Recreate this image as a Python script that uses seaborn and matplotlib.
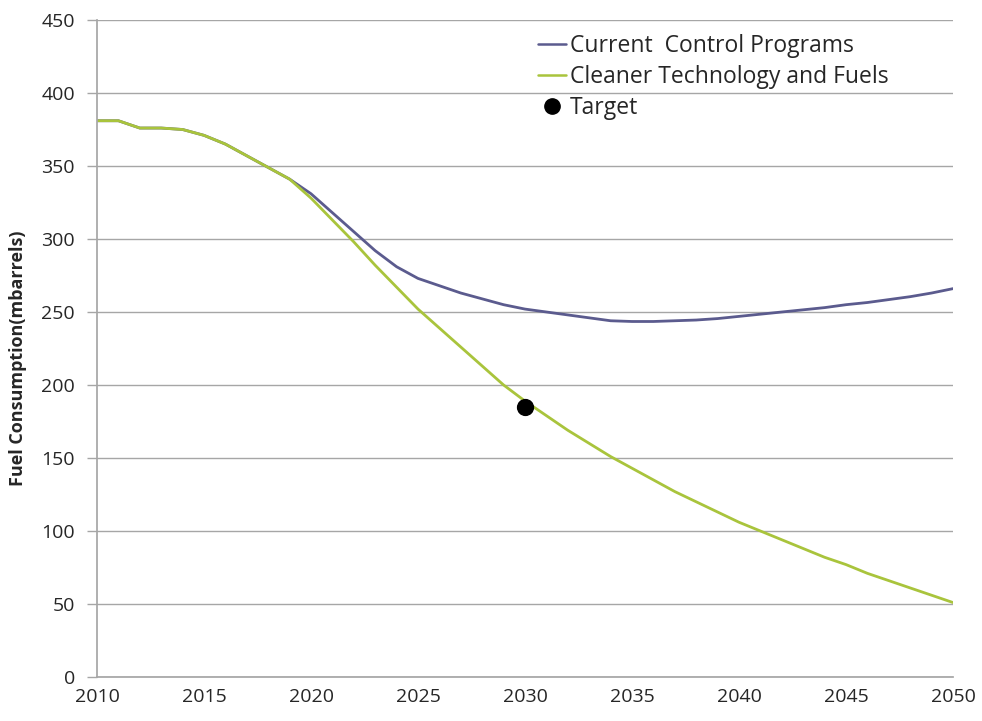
import matplotlib
matplotlib.use("Agg")
import matplotlib.pyplot as plt
import seaborn as sns
import pandas as pd
from matplotlib.lines import Line2D

years = list(range(2010, 2051))
current = [381, 381, 376, 376, 375, 371, 365, 357, 349, 341, 331, 318, 305, 292, 281,
           273, 268, 263, 259, 255, 252, 250, 248, 246, 244, 243.5, 243.5, 244, 244.5,
           245.5, 247, 248.5, 250, 251.5, 253, 255, 256.5, 258.5, 260.5, 263, 266]
cleaner = [381, 381, 376, 376, 375, 371, 365, 357, 349, 341, 328, 313, 298, 282, 267,
           252, 239, 226, 213, 200, 189, 179, 169, 160, 151, 143, 135, 127, 120, 113,
           106, 100, 94, 88, 82, 77, 71, 66, 61, 56, 51]
target_year = [2030]
target_value = [185]
series_names = ["Current  Control Programs", "Cleaner Technology and Fuels"]
xticks = list(range(2010, 2051, 5))
yticks = list(range(0, 451, 50))

BLUE = "#5b5b8e"
GREEN = "#a9c43c"
GRID = "#a6a6a6"

sns.set_theme(style="white")
plt.rcParams['font.family'] = ['Open Sans', 'DejaVu Sans']

df = pd.DataFrame({
    "Year": years * 2,
    "Value": current + cleaner,
    "Series": [series_names[0]] * len(years) + [series_names[1]] * len(years),
})

fig = plt.figure(figsize=(9.82, 7.21), dpi=100)
left, right, bottom, top = 97 / 982, 953 / 982, 1 - 677 / 721, 1 - 20 / 721
ax = fig.add_axes([left, bottom, right - left, top - bottom])

sns.lineplot(data=df, x="Year", y="Value", hue="Series", hue_order=series_names,
             palette={series_names[0]: BLUE, series_names[1]: GREEN},
             linewidth=2.0, ax=ax, legend=False)
ax.scatter(target_year, target_value, s=130, color="black", zorder=5, label="Target")

ax.set_xlim(2010, 2050)
ax.set_ylim(0, 450)
ax.set_xticks(xticks)
ax.set_yticks(yticks)
ax.tick_params(axis="x", labelsize=14, length=0, pad=8)
ax.tick_params(axis="y", labelsize=14, length=7, width=1, color=GRID, pad=9, left=True)
ax.grid(axis="y", color=GRID, linewidth=1)
ax.set_axisbelow(True)
for s in ["top", "right"]:
    ax.spines[s].set_visible(False)
ax.spines["left"].set_color(GRID)
ax.spines["bottom"].set_color(GRID)
ax.set_xlabel("")
ax.set_ylabel("Fuel Consumption(mbarrels)", fontsize=13, fontweight="bold")
ax.yaxis.set_label_coords(27 / 982, (1 - 358 / 721), transform=fig.transFigure)

handles = [Line2D([], [], color=BLUE, lw=1.8),
           Line2D([], [], color=GREEN, lw=1.8),
           Line2D([], [], color="black", marker="o", linestyle="none", markersize=11)]
leg = ax.legend(handles, series_names + ["Target"], loc="upper left",
                bbox_to_anchor=(538 / 982, 1 - 34 / 721), bbox_transform=fig.transFigure,
                frameon=False, fontsize=16.5, handlelength=1.2, handletextpad=0.2,
                labelspacing=0.3, borderaxespad=0, borderpad=0)

fig.savefig("out.png", dpi=100)
